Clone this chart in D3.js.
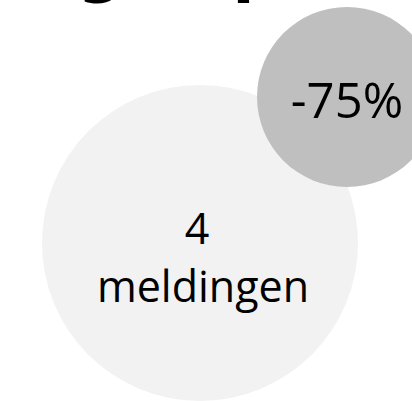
<!DOCTYPE html>
<html>
<head>
<meta charset="utf-8">
<script src="https://cdn.jsdelivr.net/npm/d3@7"></script>
<style>
  html, body { margin: 0; padding: 0; background: #fff; overflow: hidden; }
  svg { display: block; }
</style>
</head>
<body>
<script>
// data
var titleText = "Afgelopen";
var bubbleKeys = ["meldingen", "verschil"];
var bubbleValues = [4, -75];
var bubbleUnits = ["meldingen", "%"];

var width = 412, height = 401;

var svg = d3.select("body").append("svg")
    .attr("width", width)
    .attr("height", height);

// layout of the two bubbles (big one behind, small one on top)
var cx = d3.scaleOrdinal().domain(bubbleKeys).range([200, 347]);
var cy = d3.scaleOrdinal().domain(bubbleKeys).range([243, 97]);
var r = d3.scaleOrdinal().domain(bubbleKeys).range([158, 90]);
var fill = d3.scaleOrdinal().domain(bubbleKeys).range(["#f2f2f2", "#bfbfbf"]);

// title, mostly above the visible area
svg.append("text")
    .attr("x", 0)
    .attr("y", -10)
    .style("font-family", "'DejaVu Sans', sans-serif")
    .style("font-weight", "bold")
    .style("font-size", "64px")
    .style("fill", "#000")
    .text(titleText);

var data = bubbleKeys.map(function (k, i) {
    return {key: k, value: bubbleValues[i], unit: bubbleUnits[i]};
});

var g = svg.selectAll("g.bubble")
    .data(data)
    .enter()
    .append("g")
    .attr("class", "bubble")
    .attr("transform", function (d) {
        return "translate(" + cx(d.key) + "," + cy(d.key) + ")";
    });

g.append("circle")
    .attr("r", function (d) { return r(d.key); })
    .style("fill", function (d) { return fill(d.key); });

// big bubble: number + word on two lines
var big = g.filter(function (d) { return d.key === "meldingen"; });
big.append("text")
    .attr("text-anchor", "middle")
    .attr("x", -3)
    .attr("y", 1)
    .style("font-family", "'Open Sans', sans-serif")
    .style("font-size", "43px")
    .style("fill", "#000")
    .text(function (d) { return d.value; });
big.append("text")
    .attr("text-anchor", "middle")
    .attr("x", 3)
    .attr("y", 59)
    .style("font-family", "'Open Sans', sans-serif")
    .style("font-size", "43px")
    .style("fill", "#000")
    .text(function (d) { return d.unit; });

// small bubble: percentage (plain hyphen as minus)
var small = g.filter(function (d) { return d.key === "verschil"; });
small.append("text")
    .attr("text-anchor", "middle")
    .attr("y", 21)
    .style("font-family", "'Open Sans', sans-serif")
    .style("font-size", "49px")
    .style("fill", "#000")
    .text(function (d) { return String(d.value) + d.unit; });
</script>
</body>
</html>
